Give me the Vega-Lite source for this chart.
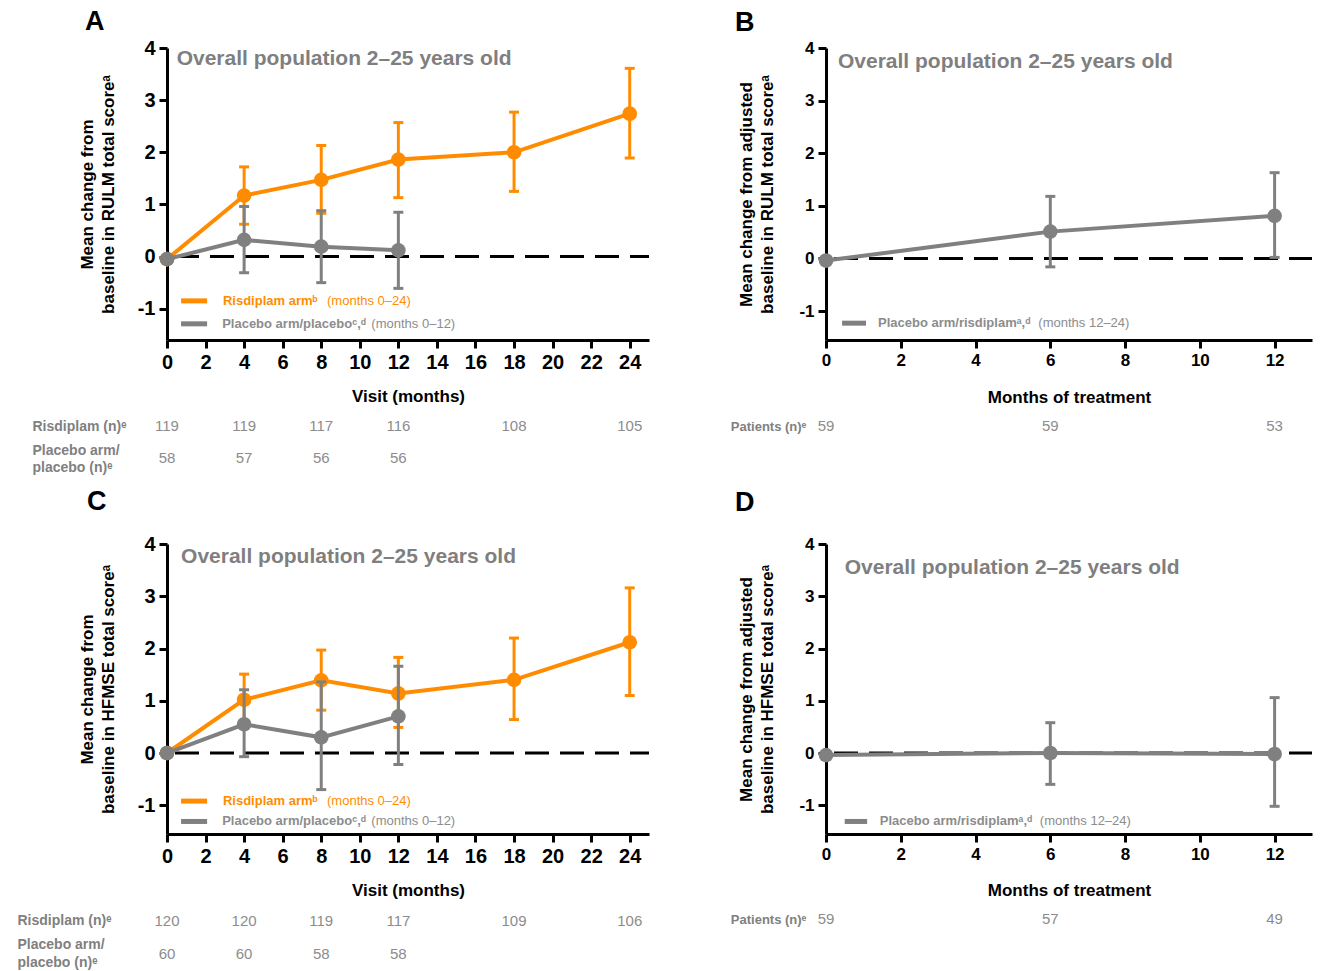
{
  "$schema": "https://vega.github.io/schema/vega-lite/v6.json",
  "padding": {"left": 17, "top": 8, "right": 0, "bottom": 0},
  "background": "white",
  "columns": 2,
  "bounds": "flush",
  "align": "each",
  "spacing": {"row": 70, "column": 177},
  "datasets": {
    "A": [
      {"arm": "R", "month": 0, "mean": -0.05, "lo": -0.05, "hi": -0.05},
      {"arm": "R", "month": 4, "mean": 1.17, "lo": 0.62, "hi": 1.72},
      {"arm": "R", "month": 8, "mean": 1.47, "lo": 0.83, "hi": 2.13},
      {"arm": "R", "month": 12, "mean": 1.86, "lo": 1.13, "hi": 2.57},
      {"arm": "R", "month": 18, "mean": 2.0, "lo": 1.25, "hi": 2.77},
      {"arm": "R", "month": 24, "mean": 2.74, "lo": 1.89, "hi": 3.61},
      {"arm": "P", "month": 0, "mean": -0.05, "lo": -0.05, "hi": -0.05},
      {"arm": "P", "month": 4, "mean": 0.32, "lo": -0.31, "hi": 0.96},
      {"arm": "P", "month": 8, "mean": 0.19, "lo": -0.5, "hi": 0.88},
      {"arm": "P", "month": 12, "mean": 0.12, "lo": -0.61, "hi": 0.85}
    ],
    "B": [
      {"arm": "P", "month": 0, "mean": -0.04, "lo": -0.04, "hi": -0.04},
      {"arm": "P", "month": 6, "mean": 0.51, "lo": -0.16, "hi": 1.18},
      {"arm": "P", "month": 12, "mean": 0.81, "lo": 0.02, "hi": 1.63}
    ],
    "C": [
      {"arm": "R", "month": 0, "mean": 0, "lo": 0, "hi": 0},
      {"arm": "R", "month": 4, "mean": 1.02, "lo": 0.55, "hi": 1.51},
      {"arm": "R", "month": 8, "mean": 1.39, "lo": 0.82, "hi": 1.97},
      {"arm": "R", "month": 12, "mean": 1.14, "lo": 0.49, "hi": 1.83},
      {"arm": "R", "month": 18, "mean": 1.4, "lo": 0.64, "hi": 2.2},
      {"arm": "R", "month": 24, "mean": 2.12, "lo": 1.1, "hi": 3.16},
      {"arm": "P", "month": 0, "mean": 0, "lo": 0, "hi": 0},
      {"arm": "P", "month": 4, "mean": 0.55, "lo": -0.07, "hi": 1.21},
      {"arm": "P", "month": 8, "mean": 0.3, "lo": -0.7, "hi": 1.36},
      {"arm": "P", "month": 12, "mean": 0.7, "lo": -0.22, "hi": 1.66}
    ],
    "D": [
      {"arm": "P", "month": 0, "mean": -0.04, "lo": -0.04, "hi": -0.04},
      {"arm": "P", "month": 6, "mean": 0.0, "lo": -0.6, "hi": 0.58},
      {"arm": "P", "month": 12, "mean": -0.02, "lo": -1.02, "hi": 1.06}
    ],
    "tA": [
      {"row": "R", "month": 0, "n": 119}, {"row": "R", "month": 4, "n": 119}, {"row": "R", "month": 8, "n": 117},
      {"row": "R", "month": 12, "n": 116}, {"row": "R", "month": 18, "n": 108}, {"row": "R", "month": 24, "n": 105},
      {"row": "P", "month": 0, "n": 58}, {"row": "P", "month": 4, "n": 57}, {"row": "P", "month": 8, "n": 56}, {"row": "P", "month": 12, "n": 56}
    ],
    "tB": [
      {"row": "P", "month": 0, "n": 59}, {"row": "P", "month": 6, "n": 59}, {"row": "P", "month": 12, "n": 53}
    ],
    "tC": [
      {"row": "R", "month": 0, "n": 120}, {"row": "R", "month": 4, "n": 120}, {"row": "R", "month": 8, "n": 119},
      {"row": "R", "month": 12, "n": 117}, {"row": "R", "month": 18, "n": 109}, {"row": "R", "month": 24, "n": 106},
      {"row": "P", "month": 0, "n": 60}, {"row": "P", "month": 4, "n": 60}, {"row": "P", "month": 8, "n": 58}, {"row": "P", "month": 12, "n": 58}
    ],
    "tD": [
      {"row": "P", "month": 0, "n": 59}, {"row": "P", "month": 6, "n": 57}, {"row": "P", "month": 12, "n": 49}
    ]
  },
  "concat": [
    {
      "width": 482, "height": 292,
      "title": {"text": "A", "dx": -82, "offset": 2},
      "layer": [
        {"data": {"values": [{}]}, "mark": {"type": "rule", "color": "black", "strokeWidth": 3, "strokeDash": [24, 11], "strokeDashOffset": -8},
         "encoding": {"x": {"datum": 0, "type": "quantitative", "scale": {"domain": [0, 25], "nice": false, "zero": false}}, "x2": {"datum": 25}, "y": {"datum": 0, "type": "quantitative", "scale": {"domain": [-1.6, 4], "nice": false, "zero": false}}}},
        {"data": {"name": "A"}, "transform": [{"filter": "datum.arm == 'R' && datum.month > 0"}],
         "mark": {"type": "rule", "color": "#FF8C00", "strokeWidth": 3},
         "encoding": {
           "x": {"field": "month", "type": "quantitative", "scale": {"domain": [0, 25], "nice": false, "zero": false},
                 "axis": {"values": [0, 2, 4, 6, 8, 10, 12, 14, 16, 18, 20, 22, 24], "title": "Visit (months)", "labelFontSize": 20, "titlePadding": 16}},
           "y": {"field": "lo", "type": "quantitative", "scale": {"domain": [-1.6, 4], "nice": false, "zero": false},
                 "axis": {"values": [-1, 0, 1, 2, 3, 4], "labelExpr": "'' + datum.value", "title": ["Mean change from", "baseline in RULM total scoreᵃ"], "labelFontSize": 20, "titlePadding": 20, "titleLineHeight": 21}},
           "y2": {"field": "hi"}}},
        {"data": {"name": "A"}, "transform": [{"filter": "datum.arm == 'R' && datum.month > 0"}], "mark": {"type": "tick", "orient": "horizontal", "color": "#FF8C00", "size": 10, "thickness": 3, "opacity": 1},
         "encoding": {"x": {"field": "month", "type": "quantitative"}, "y": {"field": "lo", "type": "quantitative"}}},
        {"data": {"name": "A"}, "transform": [{"filter": "datum.arm == 'R' && datum.month > 0"}], "mark": {"type": "tick", "orient": "horizontal", "color": "#FF8C00", "size": 10, "thickness": 3, "opacity": 1},
         "encoding": {"x": {"field": "month", "type": "quantitative"}, "y": {"field": "hi", "type": "quantitative"}}},
        {"data": {"name": "A"}, "transform": [{"filter": "datum.arm == 'R'"}], "mark": {"type": "line", "color": "#FF8C00", "strokeWidth": 4},
         "encoding": {"x": {"field": "month", "type": "quantitative"}, "y": {"field": "mean", "type": "quantitative"}}},
        {"data": {"name": "A"}, "transform": [{"filter": "datum.arm == 'R'"}], "mark": {"type": "point", "filled": true, "opacity": 1, "color": "#FF8C00", "size": 215},
         "encoding": {"x": {"field": "month", "type": "quantitative"}, "y": {"field": "mean", "type": "quantitative"}}},
        {"data": {"name": "A"}, "transform": [{"filter": "datum.arm == 'P' && datum.month > 0"}], "mark": {"type": "rule", "color": "#808080", "strokeWidth": 3},
         "encoding": {"x": {"field": "month", "type": "quantitative"}, "y": {"field": "lo", "type": "quantitative"}, "y2": {"field": "hi"}}},
        {"data": {"name": "A"}, "transform": [{"filter": "datum.arm == 'P' && datum.month > 0"}], "mark": {"type": "tick", "orient": "horizontal", "color": "#808080", "size": 10, "thickness": 3, "opacity": 1},
         "encoding": {"x": {"field": "month", "type": "quantitative"}, "y": {"field": "lo", "type": "quantitative"}}},
        {"data": {"name": "A"}, "transform": [{"filter": "datum.arm == 'P' && datum.month > 0"}], "mark": {"type": "tick", "orient": "horizontal", "color": "#808080", "size": 10, "thickness": 3, "opacity": 1},
         "encoding": {"x": {"field": "month", "type": "quantitative"}, "y": {"field": "hi", "type": "quantitative"}}},
        {"data": {"name": "A"}, "transform": [{"filter": "datum.arm == 'P'"}], "mark": {"type": "line", "color": "#808080", "strokeWidth": 4},
         "encoding": {"x": {"field": "month", "type": "quantitative"}, "y": {"field": "mean", "type": "quantitative"}}},
        {"data": {"name": "A"}, "transform": [{"filter": "datum.arm == 'P'"}], "mark": {"type": "point", "filled": true, "opacity": 1, "color": "#808080", "size": 215},
         "encoding": {"x": {"field": "month", "type": "quantitative"}, "y": {"field": "mean", "type": "quantitative"}}},
        {"data": {"values": [{}]}, "mark": {"type": "text", "text": "Overall population 2–25 years old", "align": "left", "baseline": "middle", "fontSize": 21, "fontWeight": "bold", "color": "#7F7F7F"},
         "encoding": {"x": {"datum": 0.5}, "y": {"datum": 3.78}}},
        {"data": {"values": [{}]}, "mark": {"type": "rule", "color": "#FF8C00", "strokeWidth": 5},
         "encoding": {"x": {"datum": 0.73}, "x2": {"datum": 2.08}, "y": {"datum": -0.85}}},
        {"data": {"values": [{}]}, "mark": {"type": "text", "text": "Risdiplam armᵇ", "align": "left", "baseline": "middle", "fontSize": 13, "fontWeight": "bold", "color": "#FF8C00"},
         "encoding": {"x": {"datum": 2.9}, "y": {"datum": -0.85}}},
        {"data": {"values": [{}]}, "mark": {"type": "text", "text": "(months 0–24)", "align": "left", "baseline": "middle", "fontSize": 13, "color": "#FF8C00"},
         "encoding": {"x": {"datum": 8.3}, "y": {"datum": -0.85}}},
        {"data": {"values": [{}]}, "mark": {"type": "rule", "color": "#808080", "strokeWidth": 5},
         "encoding": {"x": {"datum": 0.73}, "x2": {"datum": 2.08}, "y": {"datum": -1.29}}},
        {"data": {"values": [{}]}, "mark": {"type": "text", "text": "Placebo arm/placeboᶜ,ᵈ", "align": "left", "baseline": "middle", "fontSize": 13, "fontWeight": "bold", "color": "#8C8C8C"},
         "encoding": {"x": {"datum": 2.86}, "y": {"datum": -1.29}}},
        {"data": {"values": [{}]}, "mark": {"type": "text", "text": "(months 0–12)", "align": "left", "baseline": "middle", "fontSize": 13, "color": "#8C8C8C"},
         "encoding": {"x": {"datum": 10.6}, "y": {"datum": -1.29}}}
      ]
    },
    {
      "width": 486, "height": 292,
      "title": {"text": "B", "dx": -91, "offset": 2},
      "layer": [
        {"data": {"values": [{}]}, "mark": {"type": "rule", "color": "black", "strokeWidth": 3, "strokeDash": [24, 11], "strokeDashOffset": -8},
         "encoding": {"x": {"datum": 0, "type": "quantitative", "scale": {"domain": [0, 13], "nice": false, "zero": false}}, "x2": {"datum": 13}, "y": {"datum": 0, "type": "quantitative", "scale": {"domain": [-1.55, 4], "nice": false, "zero": false}}}},
        {"data": {"name": "B"}, "transform": [{"filter": "datum.month > 0"}],
         "mark": {"type": "rule", "color": "#808080", "strokeWidth": 3},
         "encoding": {
           "x": {"field": "month", "type": "quantitative", "scale": {"domain": [0, 13], "nice": false, "zero": false},
                 "axis": {"values": [0, 2, 4, 6, 8, 10, 12], "title": "Months of treatment", "labelFontSize": 17, "titlePadding": 21}},
           "y": {"field": "lo", "type": "quantitative", "scale": {"domain": [-1.55, 4], "nice": false, "zero": false},
                 "axis": {"values": [-1, 0, 1, 2, 3, 4], "labelExpr": "'' + datum.value", "title": ["Mean change from adjusted", "baseline in RULM total scoreᵃ"], "labelFontSize": 17, "titlePadding": 22, "titleLineHeight": 21}},
           "y2": {"field": "hi"}}},
        {"data": {"name": "B"}, "transform": [{"filter": "datum.month > 0"}], "mark": {"type": "tick", "orient": "horizontal", "color": "#808080", "size": 10, "thickness": 3, "opacity": 1},
         "encoding": {"x": {"field": "month", "type": "quantitative"}, "y": {"field": "lo", "type": "quantitative"}}},
        {"data": {"name": "B"}, "transform": [{"filter": "datum.month > 0"}], "mark": {"type": "tick", "orient": "horizontal", "color": "#808080", "size": 10, "thickness": 3, "opacity": 1},
         "encoding": {"x": {"field": "month", "type": "quantitative"}, "y": {"field": "hi", "type": "quantitative"}}},
        {"data": {"name": "B"}, "mark": {"type": "line", "color": "#808080", "strokeWidth": 4},
         "encoding": {"x": {"field": "month", "type": "quantitative"}, "y": {"field": "mean", "type": "quantitative"}}},
        {"data": {"name": "B"}, "mark": {"type": "point", "filled": true, "opacity": 1, "color": "#808080", "size": 215},
         "encoding": {"x": {"field": "month", "type": "quantitative"}, "y": {"field": "mean", "type": "quantitative"}}},
        {"data": {"values": [{}]}, "mark": {"type": "text", "text": "Overall population 2–25 years old", "align": "left", "baseline": "middle", "fontSize": 21, "fontWeight": "bold", "color": "#7F7F7F"},
         "encoding": {"x": {"datum": 0.32}, "y": {"datum": 3.73}}},
        {"data": {"values": [{}]}, "mark": {"type": "rule", "color": "#808080", "strokeWidth": 5},
         "encoding": {"x": {"datum": 0.43}, "x2": {"datum": 1.07}, "y": {"datum": -1.23}}},
        {"data": {"values": [{}]}, "mark": {"type": "text", "text": "Placebo arm/risdiplamᵃ,ᵈ", "align": "left", "baseline": "middle", "fontSize": 13, "fontWeight": "bold", "color": "#8C8C8C"},
         "encoding": {"x": {"datum": 1.39}, "y": {"datum": -1.23}}},
        {"data": {"values": [{}]}, "mark": {"type": "text", "text": "(months 12–24)", "align": "left", "baseline": "middle", "fontSize": 13, "color": "#8C8C8C"},
         "encoding": {"x": {"datum": 5.68}, "y": {"datum": -1.23}}}
      ]
    },
    {
      "width": 482, "height": 64,
      "data": {"name": "tA"},
      "mark": {"type": "text", "fontSize": 15, "color": "#8C8C8C"},
      "encoding": {
        "x": {"field": "month", "type": "quantitative", "scale": {"domain": [0, 25], "nice": false, "zero": false}, "axis": null},
        "y": {"field": "row", "type": "nominal", "sort": ["R", "P"],
              "axis": {"title": null, "domain": false, "ticks": false, "labelAlign": "left", "labelPadding": 135, "labelFontSize": 14, "labelColor": "#808080", "labelLineHeight": 17,
                       "labelOffset": {"condition": {"test": "datum.value == 'P'", "value": -8}, "value": 0},
                       "labelExpr": "datum.value == 'R' ? 'Risdiplam (n)ᵉ' : ['Placebo arm/', 'placebo (n)ᵉ']"}},
        "text": {"field": "n", "type": "quantitative"}
      }
    },
    {
      "width": 486, "height": 32,
      "data": {"name": "tB"},
      "mark": {"type": "text", "fontSize": 15, "color": "#8C8C8C"},
      "encoding": {
        "x": {"field": "month", "type": "quantitative", "scale": {"domain": [0, 13], "nice": false, "zero": false}, "axis": null},
        "y": {"field": "row", "type": "nominal",
              "axis": {"title": null, "domain": false, "ticks": false, "labelPadding": 20, "labelFontSize": 13, "labelColor": "#808080",
                       "labelExpr": "'Patients (n)ᵉ'"}},
        "text": {"field": "n", "type": "quantitative"}
      }
    },
    {
      "width": 482, "height": 290,
      "title": {"text": "C", "dx": -80, "offset": 18},
      "layer": [
        {"data": {"values": [{}]}, "mark": {"type": "rule", "color": "black", "strokeWidth": 3, "strokeDash": [24, 11], "strokeDashOffset": -8},
         "encoding": {"x": {"datum": 0, "type": "quantitative", "scale": {"domain": [0, 25], "nice": false, "zero": false}}, "x2": {"datum": 25}, "y": {"datum": 0, "type": "quantitative", "scale": {"domain": [-1.55, 4], "nice": false, "zero": false}}}},
        {"data": {"name": "C"}, "transform": [{"filter": "datum.arm == 'R' && datum.month > 0"}],
         "mark": {"type": "rule", "color": "#FF8C00", "strokeWidth": 3},
         "encoding": {
           "x": {"field": "month", "type": "quantitative", "scale": {"domain": [0, 25], "nice": false, "zero": false},
                 "axis": {"values": [0, 2, 4, 6, 8, 10, 12, 14, 16, 18, 20, 22, 24], "title": "Visit (months)", "labelFontSize": 20, "titlePadding": 16}},
           "y": {"field": "lo", "type": "quantitative", "scale": {"domain": [-1.55, 4], "nice": false, "zero": false},
                 "axis": {"values": [-1, 0, 1, 2, 3, 4], "labelExpr": "'' + datum.value", "title": ["Mean change from", "baseline in HFMSE total scoreᵃ"], "labelFontSize": 20, "titlePadding": 20, "titleLineHeight": 21}},
           "y2": {"field": "hi"}}},
        {"data": {"name": "C"}, "transform": [{"filter": "datum.arm == 'R' && datum.month > 0"}], "mark": {"type": "tick", "orient": "horizontal", "color": "#FF8C00", "size": 10, "thickness": 3, "opacity": 1},
         "encoding": {"x": {"field": "month", "type": "quantitative"}, "y": {"field": "lo", "type": "quantitative"}}},
        {"data": {"name": "C"}, "transform": [{"filter": "datum.arm == 'R' && datum.month > 0"}], "mark": {"type": "tick", "orient": "horizontal", "color": "#FF8C00", "size": 10, "thickness": 3, "opacity": 1},
         "encoding": {"x": {"field": "month", "type": "quantitative"}, "y": {"field": "hi", "type": "quantitative"}}},
        {"data": {"name": "C"}, "transform": [{"filter": "datum.arm == 'R'"}], "mark": {"type": "line", "color": "#FF8C00", "strokeWidth": 4},
         "encoding": {"x": {"field": "month", "type": "quantitative"}, "y": {"field": "mean", "type": "quantitative"}}},
        {"data": {"name": "C"}, "transform": [{"filter": "datum.arm == 'R'"}], "mark": {"type": "point", "filled": true, "opacity": 1, "color": "#FF8C00", "size": 215},
         "encoding": {"x": {"field": "month", "type": "quantitative"}, "y": {"field": "mean", "type": "quantitative"}}},
        {"data": {"name": "C"}, "transform": [{"filter": "datum.arm == 'P' && datum.month > 0"}], "mark": {"type": "rule", "color": "#808080", "strokeWidth": 3},
         "encoding": {"x": {"field": "month", "type": "quantitative"}, "y": {"field": "lo", "type": "quantitative"}, "y2": {"field": "hi"}}},
        {"data": {"name": "C"}, "transform": [{"filter": "datum.arm == 'P' && datum.month > 0"}], "mark": {"type": "tick", "orient": "horizontal", "color": "#808080", "size": 10, "thickness": 3, "opacity": 1},
         "encoding": {"x": {"field": "month", "type": "quantitative"}, "y": {"field": "lo", "type": "quantitative"}}},
        {"data": {"name": "C"}, "transform": [{"filter": "datum.arm == 'P' && datum.month > 0"}], "mark": {"type": "tick", "orient": "horizontal", "color": "#808080", "size": 10, "thickness": 3, "opacity": 1},
         "encoding": {"x": {"field": "month", "type": "quantitative"}, "y": {"field": "hi", "type": "quantitative"}}},
        {"data": {"name": "C"}, "transform": [{"filter": "datum.arm == 'P'"}], "mark": {"type": "line", "color": "#808080", "strokeWidth": 4},
         "encoding": {"x": {"field": "month", "type": "quantitative"}, "y": {"field": "mean", "type": "quantitative"}}},
        {"data": {"name": "C"}, "transform": [{"filter": "datum.arm == 'P'"}], "mark": {"type": "point", "filled": true, "opacity": 1, "color": "#808080", "size": 215},
         "encoding": {"x": {"field": "month", "type": "quantitative"}, "y": {"field": "mean", "type": "quantitative"}}},
        {"data": {"values": [{}]}, "mark": {"type": "text", "text": "Overall population 2–25 years old", "align": "left", "baseline": "middle", "fontSize": 21, "fontWeight": "bold", "color": "#7F7F7F"},
         "encoding": {"x": {"datum": 0.73}, "y": {"datum": 3.75}}},
        {"data": {"values": [{}]}, "mark": {"type": "rule", "color": "#FF8C00", "strokeWidth": 5},
         "encoding": {"x": {"datum": 0.73}, "x2": {"datum": 2.08}, "y": {"datum": -0.92}}},
        {"data": {"values": [{}]}, "mark": {"type": "text", "text": "Risdiplam armᵇ", "align": "left", "baseline": "middle", "fontSize": 13, "fontWeight": "bold", "color": "#FF8C00"},
         "encoding": {"x": {"datum": 2.9}, "y": {"datum": -0.92}}},
        {"data": {"values": [{}]}, "mark": {"type": "text", "text": "(months 0–24)", "align": "left", "baseline": "middle", "fontSize": 13, "color": "#FF8C00"},
         "encoding": {"x": {"datum": 8.3}, "y": {"datum": -0.92}}},
        {"data": {"values": [{}]}, "mark": {"type": "rule", "color": "#808080", "strokeWidth": 5},
         "encoding": {"x": {"datum": 0.73}, "x2": {"datum": 2.08}, "y": {"datum": -1.31}}},
        {"data": {"values": [{}]}, "mark": {"type": "text", "text": "Placebo arm/placeboᶜ,ᵈ", "align": "left", "baseline": "middle", "fontSize": 13, "fontWeight": "bold", "color": "#8C8C8C"},
         "encoding": {"x": {"datum": 2.86}, "y": {"datum": -1.31}}},
        {"data": {"values": [{}]}, "mark": {"type": "text", "text": "(months 0–12)", "align": "left", "baseline": "middle", "fontSize": 13, "color": "#8C8C8C"},
         "encoding": {"x": {"datum": 10.6}, "y": {"datum": -1.31}}}
      ]
    },
    {
      "width": 486, "height": 290,
      "title": {"text": "D", "dx": -91, "offset": 18},
      "layer": [
        {"data": {"values": [{}]}, "mark": {"type": "rule", "color": "black", "strokeWidth": 3, "strokeDash": [24, 11], "strokeDashOffset": -8},
         "encoding": {"x": {"datum": 0, "type": "quantitative", "scale": {"domain": [0, 13], "nice": false, "zero": false}}, "x2": {"datum": 13}, "y": {"datum": 0, "type": "quantitative", "scale": {"domain": [-1.55, 4], "nice": false, "zero": false}}}},
        {"data": {"name": "D"}, "transform": [{"filter": "datum.month > 0"}],
         "mark": {"type": "rule", "color": "#808080", "strokeWidth": 3},
         "encoding": {
           "x": {"field": "month", "type": "quantitative", "scale": {"domain": [0, 13], "nice": false, "zero": false},
                 "axis": {"values": [0, 2, 4, 6, 8, 10, 12], "title": "Months of treatment", "labelFontSize": 17, "titlePadding": 20}},
           "y": {"field": "lo", "type": "quantitative", "scale": {"domain": [-1.55, 4], "nice": false, "zero": false},
                 "axis": {"values": [-1, 0, 1, 2, 3, 4], "labelExpr": "'' + datum.value", "title": ["Mean change from adjusted", "baseline in HFMSE total scoreᵃ"], "labelFontSize": 17, "titlePadding": 22, "titleLineHeight": 21}},
           "y2": {"field": "hi"}}},
        {"data": {"name": "D"}, "transform": [{"filter": "datum.month > 0"}], "mark": {"type": "tick", "orient": "horizontal", "color": "#808080", "size": 10, "thickness": 3, "opacity": 1},
         "encoding": {"x": {"field": "month", "type": "quantitative"}, "y": {"field": "lo", "type": "quantitative"}}},
        {"data": {"name": "D"}, "transform": [{"filter": "datum.month > 0"}], "mark": {"type": "tick", "orient": "horizontal", "color": "#808080", "size": 10, "thickness": 3, "opacity": 1},
         "encoding": {"x": {"field": "month", "type": "quantitative"}, "y": {"field": "hi", "type": "quantitative"}}},
        {"data": {"name": "D"}, "mark": {"type": "line", "color": "#808080", "strokeWidth": 4},
         "encoding": {"x": {"field": "month", "type": "quantitative"}, "y": {"field": "mean", "type": "quantitative"}}},
        {"data": {"name": "D"}, "mark": {"type": "point", "filled": true, "opacity": 1, "color": "#808080", "size": 215},
         "encoding": {"x": {"field": "month", "type": "quantitative"}, "y": {"field": "mean", "type": "quantitative"}}},
        {"data": {"values": [{}]}, "mark": {"type": "text", "text": "Overall population 2–25 years old", "align": "left", "baseline": "middle", "fontSize": 21, "fontWeight": "bold", "color": "#7F7F7F"},
         "encoding": {"x": {"datum": 0.5}, "y": {"datum": 3.55}}},
        {"data": {"values": [{}]}, "mark": {"type": "rule", "color": "#808080", "strokeWidth": 5},
         "encoding": {"x": {"datum": 0.5}, "x2": {"datum": 1.1}, "y": {"datum": -1.31}}},
        {"data": {"values": [{}]}, "mark": {"type": "text", "text": "Placebo arm/risdiplamᵃ,ᵈ", "align": "left", "baseline": "middle", "fontSize": 13, "fontWeight": "bold", "color": "#8C8C8C"},
         "encoding": {"x": {"datum": 1.44}, "y": {"datum": -1.31}}},
        {"data": {"values": [{}]}, "mark": {"type": "text", "text": "(months 12–24)", "align": "left", "baseline": "middle", "fontSize": 13, "color": "#8C8C8C"},
         "encoding": {"x": {"datum": 5.72}, "y": {"datum": -1.31}}}
      ]
    },
    {
      "width": 482, "height": 66,
      "data": {"name": "tC"},
      "mark": {"type": "text", "fontSize": 15, "color": "#8C8C8C"},
      "encoding": {
        "x": {"field": "month", "type": "quantitative", "scale": {"domain": [0, 25], "nice": false, "zero": false}, "axis": null},
        "y": {"field": "row", "type": "nominal", "sort": ["R", "P"],
              "axis": {"title": null, "domain": false, "ticks": false, "labelAlign": "left", "labelPadding": 150, "labelFontSize": 14, "labelColor": "#808080", "labelLineHeight": 18,
                       "labelOffset": {"condition": {"test": "datum.value == 'P'", "value": -9}, "value": 0},
                       "labelExpr": "datum.value == 'R' ? 'Risdiplam  (n)ᵉ' : ['Placebo arm/', 'placebo  (n)ᵉ']"}},
        "text": {"field": "n", "type": "quantitative"}
      }
    },
    {
      "width": 486, "height": 30,
      "data": {"name": "tD"},
      "mark": {"type": "text", "fontSize": 15, "color": "#8C8C8C"},
      "encoding": {
        "x": {"field": "month", "type": "quantitative", "scale": {"domain": [0, 13], "nice": false, "zero": false}, "axis": null},
        "y": {"field": "row", "type": "nominal",
              "axis": {"title": null, "domain": false, "ticks": false, "labelPadding": 20, "labelFontSize": 13, "labelColor": "#808080",
                       "labelExpr": "'Patients (n)ᵉ'"}},
        "text": {"field": "n", "type": "quantitative"}
      }
    }
  ],
  "config": {
    "font": "Liberation Sans",
    "view": {"stroke": null},
    "axis": {"grid": false, "domainColor": "black", "domainWidth": 3, "tickColor": "black", "tickWidth": 3, "tickSize": 8, "labelFlush": false,
             "labelColor": "black", "labelFontWeight": "bold", "titleColor": "black", "titleFontWeight": "bold", "titleFontSize": 17, "labelPadding": 4},
    "title": {"anchor": "start", "frame": "group", "fontSize": 27, "fontWeight": "bold", "color": "black"}
  }
}
